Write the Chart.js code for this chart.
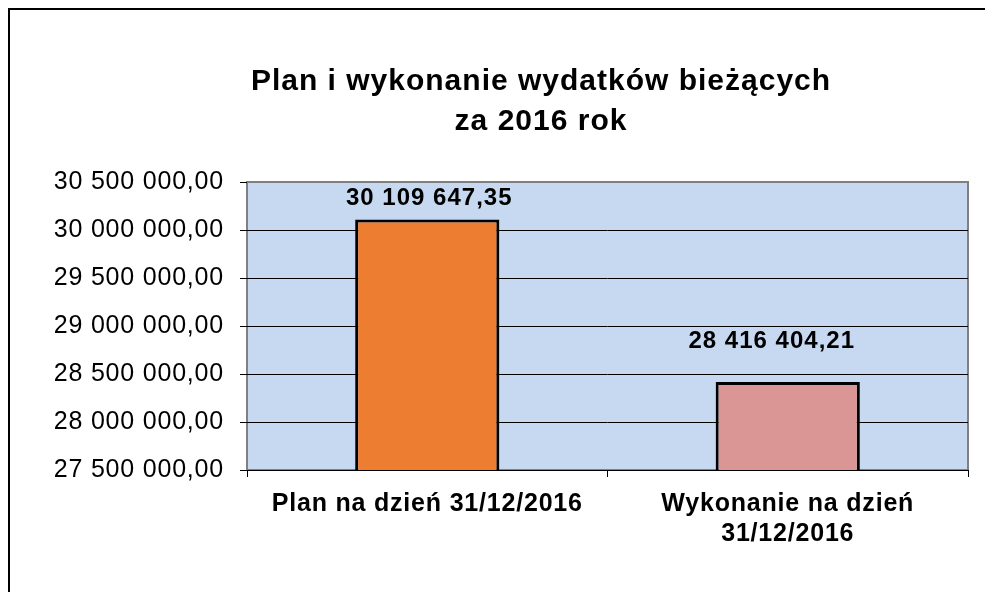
<!DOCTYPE html>
<html>
<head>
<meta charset="utf-8">
<script src="https://cdn.jsdelivr.net/npm/chart.js@4.4.1/dist/chart.umd.min.js"></script>
<style>
  html, body { margin: 0; padding: 0; background: #fff; overflow: hidden; }
  #frame {
    position: absolute; left: 8px; top: 8px; width: 1200px; height: 1200px;
    border-left: 2px solid #000; border-top: 2px solid #000;
  }
  #wrap { position: absolute; left: 0; top: 0; width: 985px; height: 592px; }
</style>
</head>
<body>
<div id="frame"></div>
<div id="wrap"><canvas id="chart" width="985" height="592"></canvas></div>
<script>
// chart data
const categories = [
  'Plan na dzień 31/12/2016',
  ['Wykonanie na dzień', '31/12/2016']
];
const values = [30109647.35, 28416404.21];
const barColors = ['#ED7D31', '#D99694'];
const titleLines = ['Plan i wykonanie wydatków bieżących', 'za 2016 rok'];
const yMin = 27500000;
const yMax = 30500000;
const yStep = 500000;

const FONT = "'Liberation Sans', Arial, sans-serif";

// 30500000 -> "30 500 000,00"
function fmt(v) {
  const parts = v.toFixed(2).split('.');
  const int = parts[0].replace(/\B(?=(\d{3})+(?!\d))/g, ' ');
  return int + ',' + parts[1];
}

// plot area fill + grey border, title, value labels
const decorPlugin = {
  id: 'decor',
  beforeDraw(chart) {
    const { ctx, chartArea: a } = chart;
    // the original text is set a bit wider than Arial, spread it a little
    ctx.letterSpacing = '0.8px';
    ctx.save();
    ctx.fillStyle = '#C6D9F0';
    ctx.fillRect(a.left, a.top, a.right - a.left, a.bottom - a.top);
    ctx.strokeStyle = '#808080';
    ctx.lineWidth = 2;
    ctx.strokeRect(a.left, a.top, a.right - a.left, a.bottom - a.top);

    ctx.fillStyle = '#000';
    ctx.font = 'bold 30px ' + FONT;
    ctx.letterSpacing = '1px';
    ctx.textAlign = 'center';
    ctx.textBaseline = 'middle';
    ctx.fillText(titleLines[0], 541, 82);
    ctx.fillText(titleLines[1], 541, 122);
    ctx.restore();
  },
  afterDatasetsDraw(chart) {
    const { ctx } = chart;
    const meta = chart.getDatasetMeta(0);
    // label offsets relative to bar top centre (as placed in the original)
    const offsets = [[2, -21], [-16, -41]];
    ctx.save();
    ctx.fillStyle = '#000';
    ctx.font = 'bold 24px ' + FONT;
    ctx.letterSpacing = '1px';
    ctx.textAlign = 'center';
    ctx.textBaseline = 'middle';
    meta.data.forEach((bar, i) => {
      ctx.fillText(fmt(values[i]), bar.x + offsets[i][0], bar.y + offsets[i][1]);
    });
    ctx.restore();
  }
};

new Chart(document.getElementById('chart').getContext('2d'), {
  type: 'bar',
  data: {
    labels: categories,
    datasets: [{
      data: values,
      backgroundColor: barColors,
      borderColor: '#000',
      borderWidth: 3,
      borderSkipped: false,
      barPercentage: 0.4,
      categoryPercentage: 1
    }]
  },
  options: {
    responsive: false,
    animation: false,
    layout: { padding: { left: 0, top: 182, right: 17, bottom: 0 } },
    plugins: {
      legend: { display: false },
      title: { display: false },
      tooltip: { enabled: false }
    },
    scales: {
      x: {
        border: { display: false },
        grid: {
          offset: true,
          color: 'rgba(0,0,0,0)',
          tickColor: '#000',
          tickLength: 7,
          drawTicks: true
        },
        ticks: {
          color: '#000',
          font: { family: FONT, size: 25, weight: 'bold', lineHeight: 1.2 },
          padding: 12,
          maxRotation: 0,
          autoSkip: false
        },
        afterFit(s) { s.height = 122; }
      },
      y: {
        min: yMin,
        max: yMax,
        border: { display: false },
        grid: {
          color: ctx => (ctx.tick && ctx.tick.value === yMax) ? 'rgba(0,0,0,0)' : '#000',
          tickColor: '#000',
          tickLength: 7,
          lineWidth: 1
        },
        ticks: {
          stepSize: yStep,
          color: '#000',
          font: { family: FONT, size: 25 },
          padding: 16,
          callback: v => fmt(v)
        },
        afterFit(s) { s.width = 247; }
      }
    }
  },
  plugins: [decorPlugin]
});
</script>
</body>
</html>
